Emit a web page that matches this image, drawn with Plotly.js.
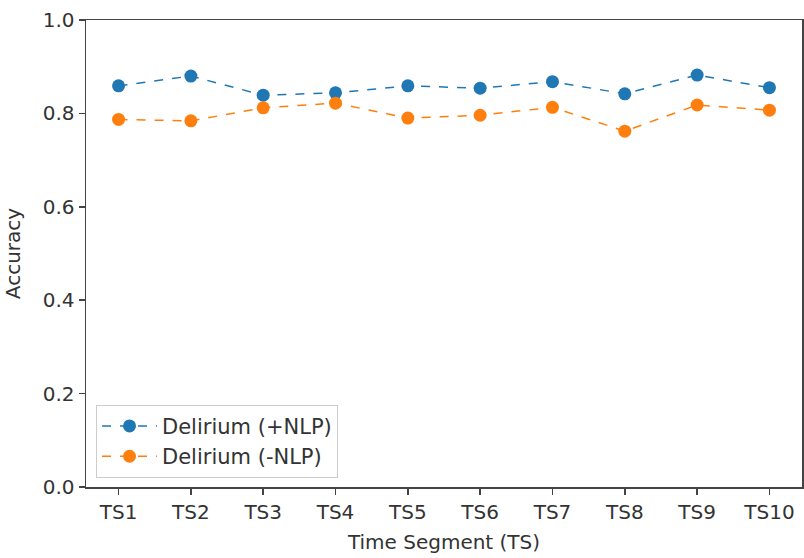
<!DOCTYPE html>
<html>
<head>
<meta charset="utf-8">
<script src="https://cdn.plot.ly/plotly-3.0.1.min.js"></script>
<style>html,body{margin:0;padding:0;background:#fff}#chart{width:804px;height:558px}</style>
</head>
<body>
<div id="chart"></div>
<script>
const categories = ["TS1","TS2","TS3","TS4","TS5","TS6","TS7","TS8","TS9","TS10"];
const withNLP = [0.859,0.880,0.839,0.844,0.859,0.854,0.868,0.842,0.882,0.855];
const withoutNLP = [0.787,0.784,0.812,0.822,0.790,0.796,0.813,0.762,0.818,0.807];
const yTicks = [0.0,0.2,0.4,0.6,0.8,1.0];
const yTickLabels = ["0.0","0.2","0.4","0.6","0.8","1.0"];

const font = {family: "DejaVu Sans, sans-serif", size: 20, color: "#333"};
const traces = [
  {x: categories, y: withNLP, name: "Delirium (+NLP)", mode: "lines+markers",
   line: {color: "#1f77b4", dash: "dash", width: 1.5}, marker: {color: "#1f77b4", size: 13}},
  {x: categories, y: withoutNLP, name: "Delirium (-NLP)", mode: "lines+markers",
   line: {color: "#ff7f0e", dash: "dash", width: 1.5}, marker: {color: "#ff7f0e", size: 13}}
];
const layout = {
  width: 804, height: 558,
  margin: {l: 86, r: 2, t: 20, b: 71},
  paper_bgcolor: "#fff", plot_bgcolor: "#fff",
  font: font,
  showlegend: true,
  legend: {x: 0.014, y: 0.176, xanchor: "left", yanchor: "top", itemwidth: 55,
           bordercolor: "#ccc", borderwidth: 1, bgcolor: "rgba(255,255,255,0.8)",
           font: {family: "DejaVu Sans, sans-serif", size: 21, color: "#333"}},
  xaxis: {type: "category", range: [-0.45, 9.45], showgrid: false, zeroline: false,
          showline: true, mirror: true, linecolor: "#444", linewidth: 1.5,
          ticks: "outside", ticklen: 6, tickcolor: "#444", tickwidth: 1.5,
          title: {text: "Time Segment (TS)", font: font, standoff: 12}},
  yaxis: {range: [0, 1], tickvals: yTicks, ticktext: yTickLabels, showgrid: false, zeroline: false,
          showline: true, mirror: true, linecolor: "#444", linewidth: 1.5,
          ticks: "outside", ticklen: 6, tickcolor: "#444", tickwidth: 1.5,
          title: {text: "Accuracy", font: font, standoff: 16}}
};
Plotly.newPlot("chart", traces, layout, {displayModeBar: false, staticPlot: true});
</script>
</body>
</html>
